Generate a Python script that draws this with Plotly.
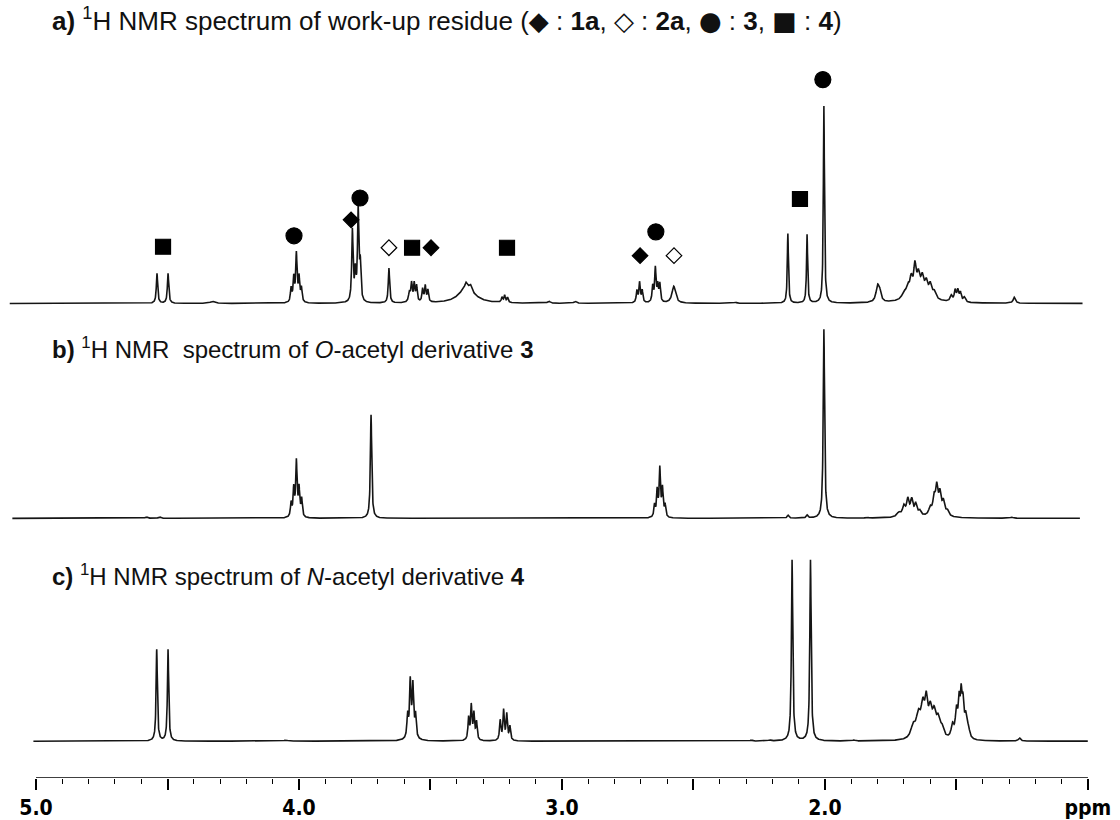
import numpy as np
import plotly.graph_objects as go

# ---------------- data ----------------
# panel a: 1H NMR of work-up residue  (ppm, apparent height, half-width)
a_ppm = [4.540, 4.498, 4.33, 4.030, 4.020, 4.010, 4.000, 3.991,
         3.797, 3.786, 3.775, 3.767, 3.658,
         3.580, 3.572, 3.562, 3.553, 3.530, 3.520, 3.510,
         3.362, 3.365, 3.348, 3.228, 3.218, 3.207, 3.05, 2.95,
         2.715, 2.705, 2.695, 2.655, 2.645, 2.636, 2.628, 2.575, 2.34,
         2.141, 2.068, 2.004,
         1.800, 1.792,
         1.700, 1.685, 1.672, 1.658, 1.645, 1.630, 1.615, 1.600, 1.585, 1.640,
         1.520, 1.505, 1.495, 1.485, 1.470, 1.28]
a_h = [30, 30, 2, 14, 24, 48, 24, 14,
       72, 28, 92, 36, 35,
       10, 18, 18, 16, 13, 16, 12,
       16, 5, 5, 5, 7, 5, 2, 2,
       12, 20, 12, 16, 34, 16, 18, 17, 1,
       70, 69, 198,
       15, 9,
       6, 10, 16, 26, 16, 14, 12, 12, 7, 12,
       6, 11, 11, 9, 5, 6]
a_w = [0.003, 0.003, 0.01, 0.003, 0.003, 0.003, 0.003, 0.003,
       0.003, 0.003, 0.003, 0.003, 0.003,
       0.004, 0.003, 0.003, 0.003, 0.003, 0.003, 0.003,
       0.035, 0.005, 0.005, 0.003, 0.003, 0.003, 0.006, 0.006,
       0.003, 0.003, 0.003, 0.003, 0.003, 0.003, 0.003, 0.008, 0.005,
       0.0025, 0.0025, 0.0025,
       0.007, 0.006,
       0.008, 0.007, 0.006, 0.005, 0.006, 0.006, 0.006, 0.006, 0.007, 0.04,
       0.005, 0.004, 0.004, 0.004, 0.005, 0.005]

# panel b: O-acetyl derivative 3
b_ppm = [4.58, 4.53, 4.030, 4.020, 4.010, 4.000, 3.990, 3.726,
         2.648, 2.638, 2.628, 2.618, 2.608, 2.14, 2.068, 2.004, 1.84,
         1.720, 1.700, 1.685, 1.670, 1.655, 1.640, 1.680,
         1.600, 1.585, 1.575, 1.563, 1.550, 1.535, 1.570, 1.29]
b_h = [1.5, 1.5, 14, 28, 55, 28, 18, 104,
       12, 26, 48, 28, 12, 3, 3, 190, 1,
       4, 9, 14, 14, 11, 5, 4,
       7, 15, 24, 18, 12, 5, 6, 1]
b_w = [0.005, 0.005, 0.003, 0.003, 0.003, 0.003, 0.003, 0.003,
       0.003, 0.003, 0.003, 0.003, 0.003, 0.004, 0.004, 0.003, 0.005,
       0.008, 0.006, 0.005, 0.005, 0.005, 0.006, 0.025,
       0.006, 0.005, 0.005, 0.005, 0.005, 0.006, 0.025, 0.006]

# panel c: N-acetyl derivative 4
c_ppm = [4.05, 4.541, 4.498,
         3.587, 3.577, 3.567, 3.557, 3.572,
         3.355, 3.345, 3.335, 3.325,
         3.235, 3.222, 3.210, 3.198,
         2.28, 2.21, 2.125, 2.055, 1.89,
         1.665, 1.645, 1.628, 1.615, 1.600, 1.585, 1.570, 1.555,
         1.515, 1.500, 1.490, 1.482, 1.475, 1.465, 1.455, 1.26]
c_h = [1, 92, 92,
       22, 52, 48, 22, 8,
       22, 34, 26, 18,
       20, 30, 26, 14,
       1, 1, 182, 182, 1,
       12, 22, 29, 32, 26, 22, 17, 10,
       13, 26, 33, 39, 30, 20, 10, 3]
c_w = [0.01, 0.0028, 0.0028,
       0.003, 0.003, 0.003, 0.003, 0.012,
       0.003, 0.003, 0.003, 0.003,
       0.003, 0.003, 0.003, 0.003,
       0.005, 0.005, 0.003, 0.003, 0.005,
       0.01, 0.01, 0.008, 0.006, 0.008, 0.008, 0.008, 0.008,
       0.006, 0.005, 0.004, 0.004, 0.004, 0.005, 0.006, 0.005]

# assignment markers over panel a: (ppm, height above baseline, symbol)
mk_ppm = [4.517, 4.019, 3.802, 3.768, 3.658, 3.570, 3.498, 3.209,
          2.703, 2.643, 2.574, 2.095, 2.008]
mk_h = [57, 68, 84, 106, 56, 56, 56, 56, 48, 72, 48, 105, 225]
mk_sym = ["square", "circle", "diamond", "circle", "diamond-open", "square",
          "diamond", "square", "diamond", "circle", "diamond-open", "square", "circle"]

tick_vals = [5.0, 4.5, 4.0, 3.5, 3.0, 2.5, 2.0, 1.5, 1.0]
tick_text = ["5.0", "", "4.0", "", "3.0", "", "2.0", "", "ppm"]
minor_vals = [round(5.0 - 0.1 * i, 1) for i in range(41) if i % 5 != 0]

# ---------------- layout constants ----------------
AXIS_Y = 782            # pixel row of the ppm ruler
BASE = {"a": AXIS_Y - 305, "b": AXIS_Y - 521, "c": AXIS_Y - 745}
X_LEFT, X_RIGHT = 5.137, 0.878


def spectrum(ppm, h, w, lo, hi):
    x = np.arange(hi, lo, -0.0005)
    y = np.zeros_like(x)
    for p, hh, ww in zip(ppm, h, w):
        y += hh * ww ** 2 / ((x - p) ** 2 + ww ** 2)
    return x, y


fig = go.Figure()
for key, (pp, hh, ww, lo, hi) in {
    "a": (a_ppm, a_h, a_w, 1.02, 5.10),
    "b": (b_ppm, b_h, b_w, 1.03, 5.09),
    "c": (c_ppm, c_h, c_w, 1.00, 5.01),
}.items():
    x, y = spectrum(pp, hh, ww, lo, hi)
    fig.add_trace(go.Scatter(x=x, y=y + BASE[key], mode="lines",
                             line=dict(color="#151515", width=1.6),
                             hoverinfo="skip", showlegend=False))

fig.add_trace(go.Scatter(
    x=mk_ppm, y=[v + BASE["a"] for v in mk_h], mode="markers",
    marker=dict(symbol=mk_sym, opacity=1,
                size=[15 if s == "square" else 16 if s == "circle" else 12 for s in mk_sym],
                color="black", line=dict(color="black", width=1.2)),
    hoverinfo="skip", showlegend=False))

# ruler line
fig.add_shape(type="line", x0=5.0, x1=1.0, y0=0, y1=0, xref="x", yref="y",
              line=dict(color="black", width=1.5))

SYM = '<span style="font-family:DejaVu Sans;font-size:26px">{}</span>'
font_a = dict(family="Liberation Sans, Arial, sans-serif", size=26, color="#111")
font_bc = dict(family="Liberation Sans, Arial, sans-serif", size=24, color="#111")
titles = [
    (AXIS_Y - 20, font_a, "<b>a)</b> <sup>1</sup>H NMR spectrum of work-up residue ("
     + SYM.format("◆") + " : <b>1a</b>, " + SYM.format("◇") + " : <b>2a</b>, "
     + SYM.format("●") + " : <b>3</b>, " + SYM.format("■") + " : <b>4</b>)"),
    (AXIS_Y - 350, font_bc, "<b>b)</b> <sup>1</sup>H NMR  spectrum of <i>O</i>-acetyl derivative <b>3</b>"),
    (AXIS_Y - 578, font_bc, "<b>c)</b> <sup>1</sup>H NMR spectrum of <i>N</i>-acetyl derivative <b>4</b>"),
]
for yy, fnt, txt in titles:
    fig.add_annotation(x=0.045, xref="paper", y=yy, yref="y", text=txt,
                       showarrow=False, xanchor="left", yanchor="middle",
                       font=fnt)

fig.update_layout(
    width=1120, height=820,
    margin=dict(l=0, r=0, t=0, b=820 - AXIS_Y),
    paper_bgcolor="white", plot_bgcolor="white",
    xaxis=dict(range=[X_LEFT, X_RIGHT], showgrid=False, zeroline=False, showline=False,
               tickmode="array", tickvals=tick_vals, ticktext=tick_text,
               ticks="outside", ticklen=11, tickwidth=1.5, tickcolor="black",
               tickfont=dict(family="Liberation Sans Narrow, DejaVu Sans Condensed, Arial", size=21,
                             color="black", weight="bold"),
               minor=dict(tickmode="array", tickvals=minor_vals, ticks="outside",
                          ticklen=5, tickwidth=1, tickcolor="black")),
    yaxis=dict(range=[0, AXIS_Y], visible=False, showgrid=False, zeroline=False),
)

fig.write_html("out.html")
